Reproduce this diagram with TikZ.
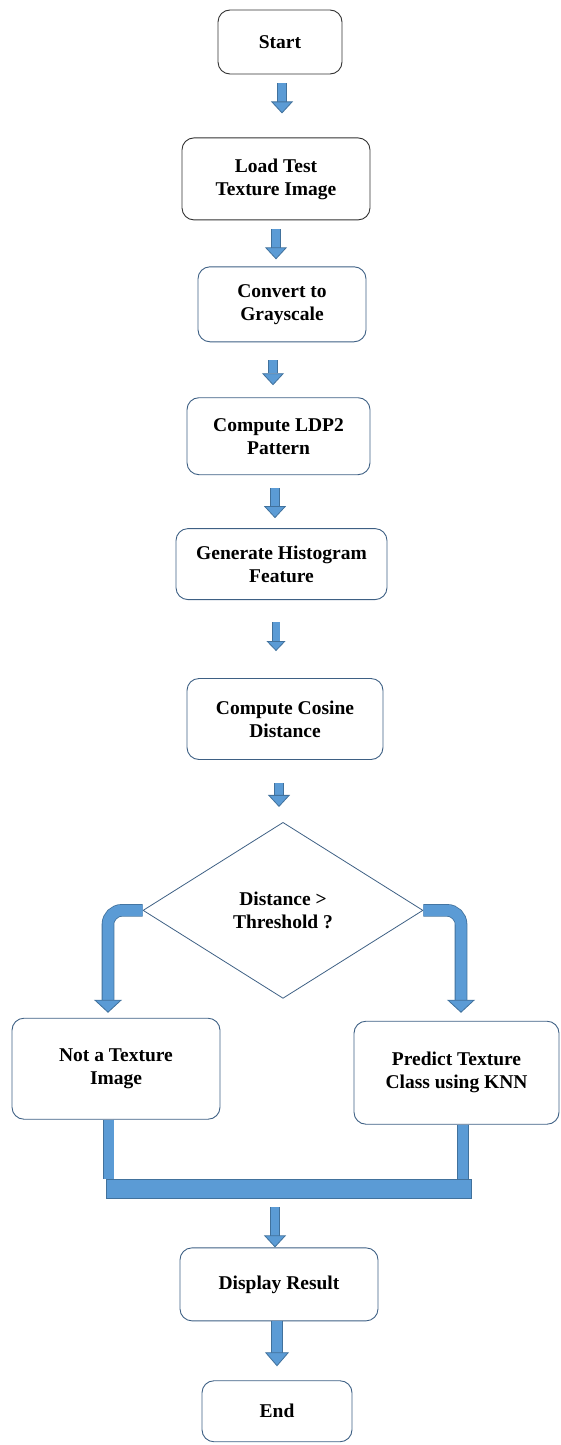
\documentclass[tikz,border=0pt]{standalone}
\usepackage{fontspec}
\setmainfont{Liberation Serif}
\usetikzlibrary{positioning, arrows.meta, shapes.geometric}
\definecolor{arrowblue}{RGB}{91,155,213}
\definecolor{arrowedge}{RGB}{65,113,156}
\definecolor{boxedge}{RGB}{62,96,132}

\begin{document}
\begin{tikzpicture}[
  x=1pt, y=1pt,
  node distance=50pt,
  flowbox/.style={draw=boxedge, rounded corners=12pt, line width=0.9pt, align=center,
                  font=\fontsize{19.5}{23}\selectfont\bfseries, inner sep=2pt},
  darkbox/.style={flowbox, draw=black!80},
  decision/.style={diamond, draw=boxedge, line width=0.8pt, align=center, inner sep=0pt,
                   font=\fontsize{19.5}{23}\selectfont\bfseries},
  blockarrow/.style={draw=arrowedge, line width=0.8pt, double=arrowblue, double distance=8pt,
                     -{Triangle[width=22pt, length=12pt, fill=arrowblue]}},
  elbow/.style={blockarrow, double distance=11pt, rounded corners=14pt,
                -{Triangle[width=28pt, length=13pt, fill=arrowblue]}},
  barline/.style={draw=arrowedge, line width=0.8pt, double=arrowblue, double distance=10pt},
  joinbar/.style={draw=arrowedge, fill=arrowblue, line width=0.8pt, inner sep=0pt}
]
  \useasboundingbox (0,0) rectangle (561,-1445);

  % main column
  \node[darkbox, minimum width=124pt, minimum height=64pt] (start) at (280,-42) {Start};
  \node[darkbox, below=63pt of start, xshift=-4pt, minimum width=188pt, minimum height=82pt] (load) {Load Test\\Texture Image};
  \node[flowbox, below=46pt of load, xshift=6pt, minimum width=168pt, minimum height=75pt] (conv) {Convert to\\Grayscale};
  \node[flowbox, below=55pt of conv, xshift=-3.5pt, minimum width=183pt, minimum height=77pt] (ldp) {Compute LDP2\\Pattern};
  \node[flowbox, below=53pt of ldp, xshift=3pt, minimum width=211pt, minimum height=71pt] (hist) {Generate Histogram\\Feature};
  \node[flowbox, below=78pt of hist, xshift=3.5pt, minimum width=196pt, minimum height=81pt] (cos) {Compute Cosine\\Distance};
  \node[decision, below=62pt of cos, xshift=-2pt, minimum width=280pt, minimum height=176pt] (dec) {Distance >\\Threshold ?};

  % two branches
  \node[flowbox, below=19pt of dec, xshift=-167pt, minimum width=208pt, minimum height=101pt] (nottex) {Not a Texture\\Image};
  \node[flowbox, below=22pt of dec, xshift=173.5pt, minimum width=205pt, minimum height=103pt] (pred) {Predict Texture\\Class using KNN};

  \node[joinbar, minimum width=365pt, minimum height=19pt] (join) at (288.5,-1188.5) {};
  \node[flowbox, below=49pt of join, xshift=-9.5pt, minimum width=198pt, minimum height=73pt] (disp) {Display Result};
  \node[flowbox, below=59pt of disp, xshift=-2pt, minimum width=150pt, minimum height=61pt] (end) {End};

  % arrows
  \draw[blockarrow, shorten <=9pt, shorten >=24pt] ([xshift=2pt]start.south) -- ([xshift=2pt]start.south |- load.north);
  \draw[blockarrow, shorten <=9pt, shorten >=7pt] (load.south) -- (load.south |- conv.north);
  \draw[blockarrow, shorten <=18pt, shorten >=12pt] ([xshift=-9pt]conv.south) -- ([xshift=-9pt]conv.south |- ldp.north);
  \draw[blockarrow, shorten <=13pt, shorten >=10pt] ([xshift=-3.5pt]ldp.south) -- ([xshift=-3.5pt]ldp.south |- hist.north);
  \draw[blockarrow, double distance=7pt, shorten <=22pt, shorten >=27pt,
        -{Triangle[width=19pt, length=10pt, fill=arrowblue]}] ([xshift=-5.5pt]hist.south) -- ([xshift=-5.5pt]hist.south |- cos.north);
  \draw[blockarrow, shorten <=23pt, shorten >=15pt] ([xshift=-6pt]cos.south) -- ([xshift=-6pt]cos.south |- dec.north);

  \draw[elbow, shorten >=5pt] (dec.west) -| ([xshift=-8pt]nottex.north);
  \draw[elbow, shorten >=8pt] (dec.east) -| ([xshift=4.5pt]pred.north);

  \draw[barline] ([xshift=-7.5pt]nottex.south) -- ([xshift=-7.5pt]nottex.south |- join.north);
  \draw[barline] ([xshift=6.5pt]pred.south) -- ([xshift=6.5pt]pred.south |- join.north);

  \draw[blockarrow, shorten <=9pt] ([xshift=-4pt]disp.north |- join.south) -- ([xshift=-4pt]disp.north);
  \draw[blockarrow, double distance=10pt, shorten >=14pt,
        -{Triangle[width=24pt, length=14pt, fill=arrowblue]}] (end.north |- disp.south) -- (end.north);
\end{tikzpicture}
\end{document}
